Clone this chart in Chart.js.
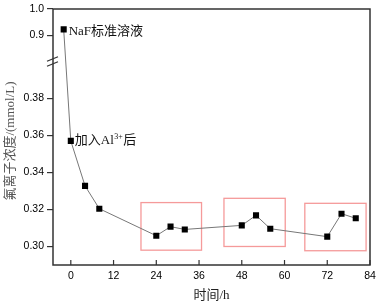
<!DOCTYPE html>
<html>
<head>
<meta charset="utf-8">
<script src="https://cdn.jsdelivr.net/npm/chart.js@4.4.1/dist/chart.umd.min.js"></script>
<style>
  html, body { margin: 0; padding: 0; background: #fff; }
  #wrap { width: 377px; height: 304px; }
</style>
</head>
<body>
<div id="wrap"><canvas id="c"></canvas></div>
<script>
// data
const hours = [0, 4, 8, 24, 28, 32, 48, 52, 56, 72, 76, 80];
const fluoride = [0.357, 0.3327, 0.3204, 0.3058, 0.3107, 0.3092, 0.3114, 0.3168, 0.3096, 0.3053, 0.3177, 0.3152];
const nafHours = [-2];
const nafValues = [0.922];
const xTicks = [0, 12, 24, 36, 48, 60, 72, 84];
const lowerTicks = [0.30, 0.32, 0.34, 0.36, 0.38];
const upperTicks = [0.9, 1.0];
// highlighted windows: [x0, x1, y0, y1]
const boxes = [[19.7, 36.7, 0.298, 0.3237], [43, 60.2, 0.300, 0.326], [65.7, 82.9, 0.2977, 0.3233]];

const TICK_FONT = { family: "'Liberation Sans', Arial, sans-serif", size: 10.5 };
const TEXT_FONT = "'Liberation Serif', 'Noto Sans CJK SC', serif";

const decor = {
  id: 'decor',
  beforeDatasetsDraw(chart) {
    const { ctx, scales } = chart;
    const x = scales.x, y = scales.y, yTop = scales.yTop;
    ctx.save();
    // red windows
    ctx.strokeStyle = '#f59a9a';
    ctx.lineWidth = 1.3;
    boxes.forEach(b => {
      const l = x.getPixelForValue(b[0]), r = x.getPixelForValue(b[1]);
      const t = y.getPixelForValue(b[3]), bt = y.getPixelForValue(b[2]);
      ctx.strokeRect(l, t, r - l, bt - t);
    });
    // segment crossing the axis break
    ctx.strokeStyle = '#777';
    ctx.lineWidth = 1;
    ctx.beginPath();
    ctx.moveTo(x.getPixelForValue(nafHours[0]), yTop.getPixelForValue(nafValues[0]));
    ctx.lineTo(x.getPixelForValue(hours[0]), y.getPixelForValue(fluoride[0]));
    ctx.stroke();
    ctx.restore();
  },
  afterDraw(chart) {
    const { ctx, chartArea: a, scales } = chart;
    ctx.save();
    // frame
    ctx.strokeStyle = '#333';
    ctx.lineWidth = 1.5;
    ctx.strokeRect(a.left, a.top, a.right - a.left, a.bottom - a.top);
    // inward x ticks
    ctx.lineWidth = 1.2;
    ctx.beginPath();
    xTicks.forEach(v => {
      const px = scales.x.getPixelForValue(v);
      ctx.moveTo(px, a.bottom);
      ctx.lineTo(px, a.bottom - 5);
    });
    ctx.stroke();
    // break marks on the left axis
    const j = scales.yTop.bottom;
    ctx.lineWidth = 1.2;
    ctx.beginPath();
    [-2, 3].forEach(d => {
      ctx.moveTo(a.left - 6, j + d + 2);
      ctx.lineTo(a.left + 5, j + d - 2.5);
    });
    ctx.stroke();
    // y title
    ctx.fillStyle = '#555';
    ctx.font = '13px ' + TEXT_FONT;
    ctx.textAlign = 'center';
    ctx.textBaseline = 'middle';
    ctx.translate(11, 141);
    ctx.rotate(-Math.PI / 2);
    ctx.fillText('氟离子浓度/(mmol/L)', 0, 0);
    ctx.restore();

    // point labels
    ctx.save();
    ctx.fillStyle = '#111';
    ctx.textBaseline = 'middle';
    ctx.textAlign = 'left';
    const p0x = scales.x.getPixelForValue(nafHours[0]), p0y = scales.yTop.getPixelForValue(nafValues[0]);
    ctx.font = '13px ' + TEXT_FONT;
    ctx.fillText('NaF标准溶液', p0x + 5, p0y + 2);
    let tx = scales.x.getPixelForValue(hours[0]) + 4;
    const ty = scales.y.getPixelForValue(fluoride[0]);
    ctx.fillText('加入Al', tx, ty);
    tx += ctx.measureText('加入Al').width;
    ctx.font = '8px ' + TEXT_FONT;
    ctx.fillText('3+', tx + 0.5, ty - 4);
    tx += ctx.measureText('3+').width + 1;
    ctx.font = '13px ' + TEXT_FONT;
    ctx.fillText('后', tx, ty);
    ctx.restore();
  }
};

const yCommon = {
  type: 'linear',
  position: 'left',
  stack: 'conc',
  border: { display: false },
  grid: { drawOnChartArea: false, drawTicks: true, tickLength: 6, color: '#333', lineWidth: 1.2 },
  afterFit(s) { s.width = 53; s.paddingTop = 0; s.paddingBottom = 0; }
};

new Chart(document.getElementById('c'), {
  type: 'line',
  data: {
    datasets: [
      {
        data: hours.map((h, i) => ({ x: h, y: fluoride[i] })),
        yAxisID: 'y',
        borderColor: '#777',
        borderWidth: 1,
        pointStyle: 'rect',
        pointRadius: 4.3,
        pointBackgroundColor: '#000',
        pointBorderColor: '#000',
        pointBorderWidth: 0
      },
      {
        data: nafHours.map((h, i) => ({ x: h, y: nafValues[i] })),
        yAxisID: 'yTop',
        borderColor: '#777',
        borderWidth: 1,
        pointStyle: 'rect',
        pointRadius: 4.3,
        pointBackgroundColor: '#000',
        pointBorderColor: '#000',
        pointBorderWidth: 0
      }
    ]
  },
  options: {
    responsive: true,
    maintainAspectRatio: false,
    animation: false,
    layout: { padding: { top: 9, right: 7, left: 0, bottom: 0 } },
    plugins: { legend: { display: false }, tooltip: { enabled: false } },
    scales: {
      x: {
        type: 'linear',
        min: -5,
        max: 84,
        border: { display: false },
        grid: { display: false, drawTicks: false },
        afterBuildTicks(s) { s.ticks = xTicks.map(v => ({ value: v })); },
        ticks: { font: TICK_FONT, color: '#000', padding: 5, maxRotation: 0 },
        title: {
          display: true,
          text: '时间/h',
          color: '#222',
          font: { family: TEXT_FONT, size: 13 },
          padding: { top: 0, bottom: 1 }
        },
        afterFit(s) { s.height = 39; s.paddingLeft = 0; s.paddingRight = 0; }
      },
      y: Object.assign({}, yCommon, {
        min: 0.29,
        max: 0.40,
        stackWeight: 3.9,
        afterBuildTicks(s) { s.ticks = lowerTicks.map(v => ({ value: v })); },
        ticks: { font: TICK_FONT, color: '#000', padding: 3, callback: v => v.toFixed(2) }
      }),
      yTop: Object.assign({}, yCommon, {
        min: 0.8,
        max: 1.0,
        stackWeight: 1,
        afterBuildTicks(s) { s.ticks = upperTicks.map(v => ({ value: v })); },
        ticks: { font: TICK_FONT, color: '#000', padding: 3, callback: v => v.toFixed(1) }
      })
    }
  },
  plugins: [decor]
});
</script>
</body>
</html>
